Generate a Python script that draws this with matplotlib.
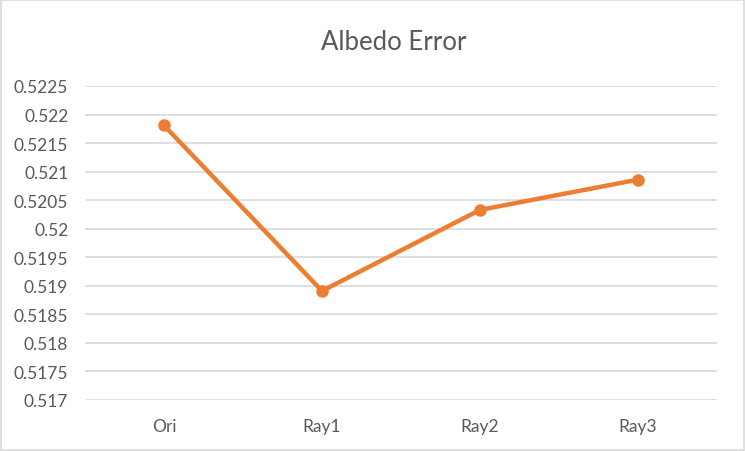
import matplotlib
matplotlib.use("Agg")
import matplotlib.pyplot as plt
from matplotlib.ticker import MultipleLocator, FuncFormatter
from matplotlib.patches import Rectangle

# data
categories = ["Ori", "Ray1", "Ray2", "Ray3"]
albedo_err = [0.52181, 0.51891, 0.52033, 0.52086]

plt.rcParams["font.family"] = ["Lato", "DejaVu Sans"]
text_gray = "#595959"
grid_gray = "#D9D9D9"
orange = "#ED7D31"

fig = plt.figure(figsize=(7.45, 4.52), dpi=100)
ax = fig.add_axes([85 / 745, 1 - 401 / 452, 632 / 745, 314 / 452])

x = range(len(categories))
ax.plot(x, albedo_err, color=orange, lw=3.2, marker="o", ms=8,
        solid_capstyle="round", solid_joinstyle="round", zorder=3)

ax.set_xlim(-0.5, len(categories) - 0.5)
ax.set_ylim(0.517, 0.5225)
ax.yaxis.set_major_locator(MultipleLocator(0.0005))
ax.yaxis.set_major_formatter(FuncFormatter(
    lambda v, p: f"{v:.4f}".rstrip("0").rstrip(".")))
ax.set_xticks(list(x))
ax.set_xticklabels(categories)

ax.grid(axis="y", color=grid_gray, lw=1.2)
ax.set_axisbelow(True)
for s in ax.spines.values():
    s.set_visible(False)
ax.tick_params(axis="y", length=0, pad=12, labelsize=12.5, labelcolor=text_gray)
ax.tick_params(axis="x", length=0, pad=13, labelsize=12.5, labelcolor=text_gray)

fig.text(394 / 745, 1 - 42 / 452, "Albedo Error", ha="center", va="center",
         fontsize=18.5, color=text_gray)

# chart border
fig.patches.append(Rectangle((0.001, 0.002), 0.997, 0.996, transform=fig.transFigure,
                             fill=False, edgecolor=grid_gray, lw=1.2))

fig.savefig("out.png", dpi=100)
